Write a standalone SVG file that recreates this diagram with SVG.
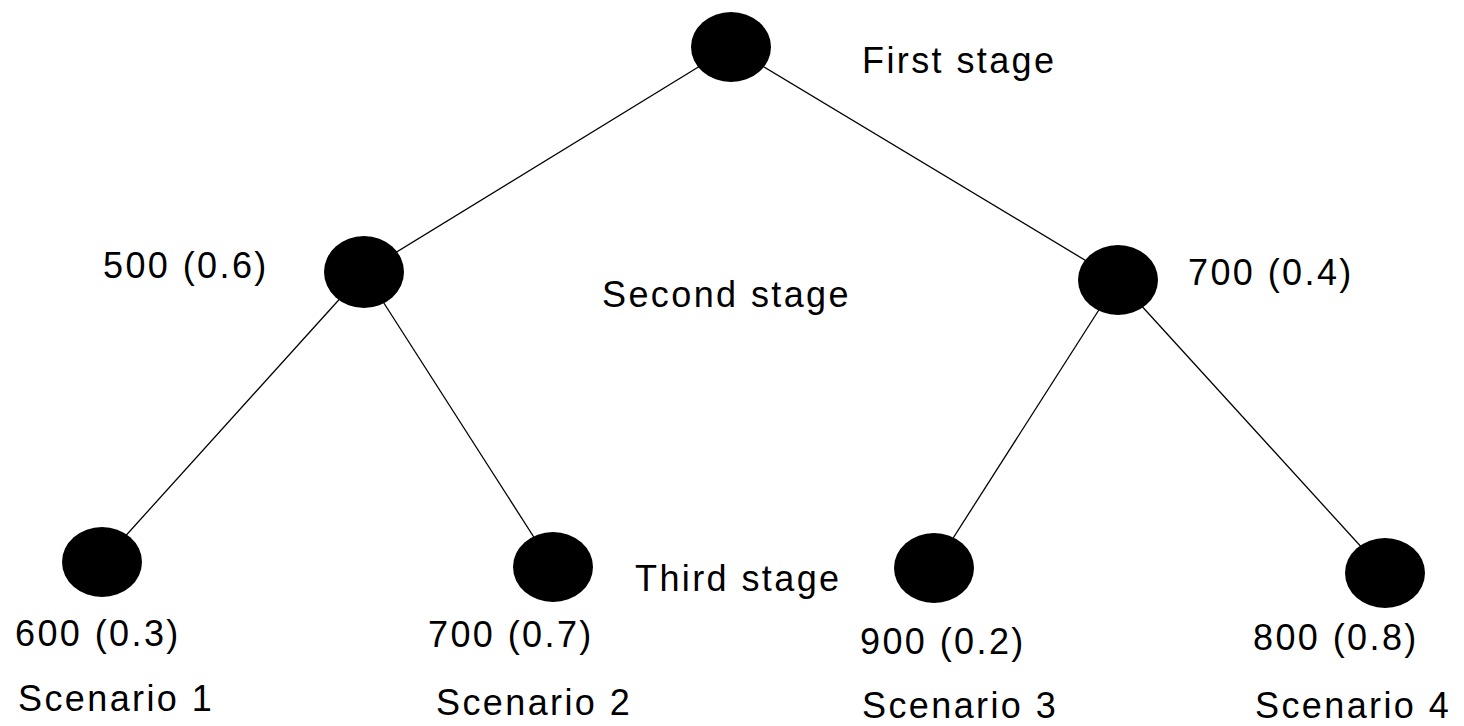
<svg xmlns="http://www.w3.org/2000/svg" width="1464" height="726" viewBox="0 0 1464 726">
<style>
.node{fill:#000}
.edge{stroke:#000;stroke-width:1.3;fill:none}
text{font-family:"Liberation Sans",Arial,sans-serif;font-size:36px;fill:#000;letter-spacing:2.4px}
</style>
<rect width="1464" height="726" fill="#fff"/>
<g id="connectors">
<line class="edge" x1="731" y1="47" x2="364" y2="272"/>
<line class="edge" x1="731" y1="47" x2="1118" y2="280"/>
<line class="edge" x1="364" y1="272" x2="102" y2="562"/>
<line class="edge" x1="364" y1="272" x2="553" y2="567"/>
<line class="edge" x1="1118" y1="280" x2="934" y2="568"/>
<line class="edge" x1="1118" y1="280" x2="1385" y2="573"/>
</g>
<g id="stage1">
<ellipse class="node" cx="731" cy="47" rx="40" ry="35"/>
<text x="862" y="73">First stage</text>
</g>
<g id="stage2-left">
<ellipse class="node" cx="364" cy="272" rx="40" ry="36"/>
<text x="103" y="278">500 (0.6)</text>
</g>
<g id="stage2-label">
<text x="602" y="307">Second stage</text>
</g>
<g id="stage2-right">
<ellipse class="node" cx="1118" cy="280" rx="40" ry="35"/>
<text x="1188" y="285">700 (0.4)</text>
</g>
<g id="stage3-label">
<text x="635" y="591">Third stage</text>
</g>
<g id="scenario1">
<ellipse class="node" cx="102" cy="562" rx="40" ry="35"/>
<text x="15" y="646">600 (0.3)</text>
<text x="18" y="711">Scenario 1</text>
</g>
<g id="scenario2">
<ellipse class="node" cx="553" cy="567" rx="40" ry="35"/>
<text x="428" y="647">700 (0.7)</text>
<text x="436" y="715">Scenario 2</text>
</g>
<g id="scenario3">
<ellipse class="node" cx="934" cy="568" rx="40" ry="35"/>
<text x="860" y="654">900 (0.2)</text>
<text x="862" y="718">Scenario 3</text>
</g>
<g id="scenario4">
<ellipse class="node" cx="1385" cy="573" rx="40" ry="35"/>
<text x="1253" y="650">800 (0.8)</text>
<text x="1255" y="718">Scenario 4</text>
</g>
</svg>
